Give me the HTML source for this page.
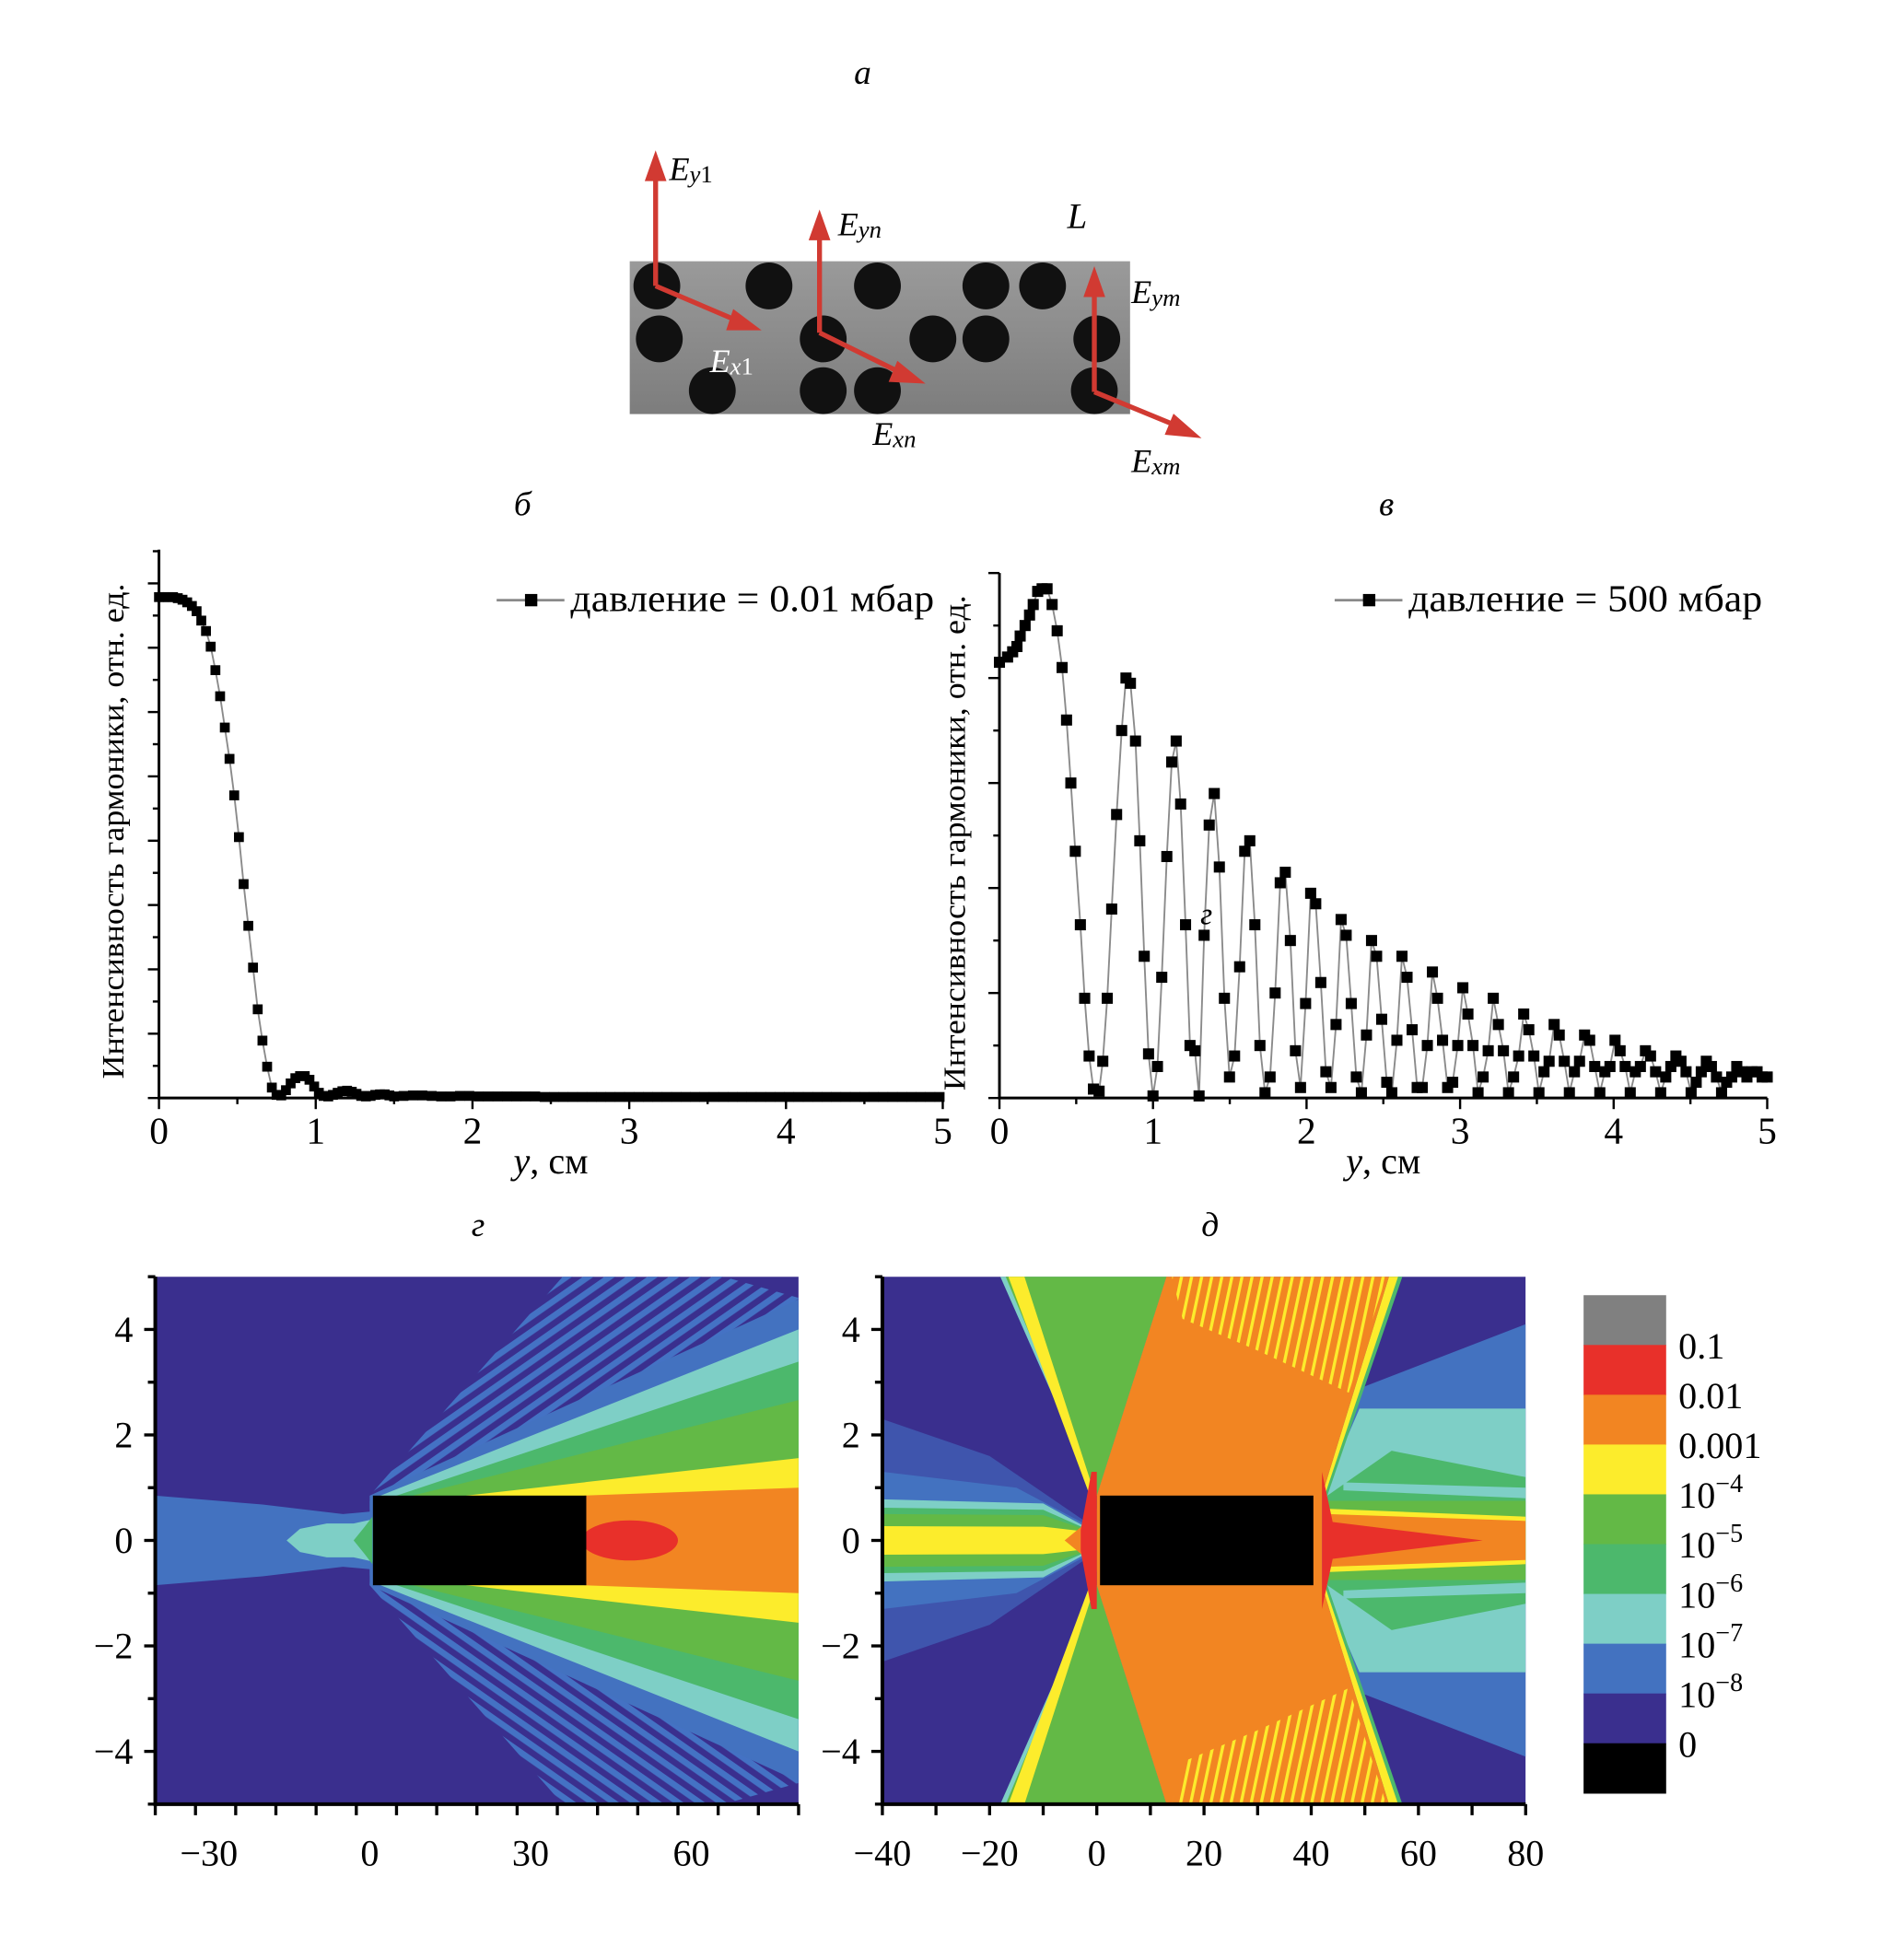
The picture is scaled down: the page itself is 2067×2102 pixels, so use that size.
<!DOCTYPE html>
<html><head><meta charset="utf-8">
<style>
html,body{margin:0;padding:0;background:#fff;}
svg{display:block;}
text{font-family:"Liberation Serif",serif;fill:#000;}
</style></head>
<body>
<svg id="fig" width="2067" height="2102" viewBox="0 0 1545 1571" preserveAspectRatio="none" xmlns="http://www.w3.org/2000/svg">
<defs>
<linearGradient id="gg" x1="0" y1="0" x2="0" y2="1"><stop offset="0" stop-color="#9a9a9a"/><stop offset="1" stop-color="#7d7d7d"/></linearGradient>
<pattern id="ystripe" width="8" height="14" patternUnits="userSpaceOnUse" patternTransform="rotate(12)"><rect width="2.5" height="14" fill="#fcec2c"/></pattern>
<pattern id="bstripe" width="10" height="10" patternUnits="userSpaceOnUse" patternTransform="rotate(-35)"><rect width="10" height="5" fill="#4472c4"/></pattern>
<pattern id="bstripe2" width="10" height="10" patternUnits="userSpaceOnUse" patternTransform="rotate(35)"><rect width="10" height="5" fill="#4472c4"/></pattern>
</defs>

<!-- Panel a -->
<text x="700" y="68" font-size="28" font-style="italic" text-anchor="middle">а</text>
<g>
<rect x="511" y="212" width="406" height="124" fill="url(#gg)"/>
<g id="circles" fill="#111"></g>
<g stroke="#d13a32" stroke-width="4" fill="#d13a32">
<line x1="532" y1="232" x2="532" y2="142"/><polygon points="526,145 538,145 532,128"/>
<line x1="532" y1="232" x2="600" y2="261"/><polygon points="596,254 592,266 612,266"/>
<line x1="665" y1="270" x2="665" y2="190"/><polygon points="659,193 671,193 665,176"/>
<line x1="665" y1="270" x2="732" y2="303"/><polygon points="729,296 724,308 745,309"/>
<line x1="888" y1="318" x2="888" y2="236"/><polygon points="882,239 894,239 888,222"/>
<line x1="888" y1="318" x2="956" y2="346"/><polygon points="953,339 948,351 969,353"/>
</g>
<text x="543" y="146" font-size="27" font-style="italic">E<tspan font-size="20" dy="2">y</tspan><tspan font-size="20" font-style="normal">1</tspan></text>
<text x="680" y="191" font-size="27" font-style="italic">E<tspan font-size="20" dy="2">yn</tspan></text>
<text x="866" y="185" font-size="29" font-style="italic">L</text>
<text x="918" y="246" font-size="27" font-style="italic">E<tspan font-size="20" dy="2">ym</tspan></text>
<text x="576" y="302" font-size="27" font-style="italic" style="fill:#fff">E<tspan font-size="20" dy="2">x</tspan><tspan font-size="20" font-style="normal">1</tspan></text>
<text x="708" y="361" font-size="27" font-style="italic">E<tspan font-size="20" dy="2">xn</tspan></text>
<text x="918" y="383" font-size="27" font-style="italic">E<tspan font-size="20" dy="2">xm</tspan></text>
</g>

<text x="424" y="418" font-size="28" font-style="italic" text-anchor="middle">б</text>
<text x="1125" y="418" font-size="28" font-style="italic" text-anchor="middle">в</text>
<text x="388" y="1003" font-size="28" font-style="italic" text-anchor="middle">г</text>
<text x="982" y="1003" font-size="28" font-style="italic" text-anchor="middle">д</text>

<g id="plotB"></g>
<g id="plotV"></g>
<text x="974" y="750" font-size="25" font-style="italic">г</text>
<g id="mapG"></g>
<g id="mapD"></g>
<g id="cbar"></g>
</svg>

<script>
// ---------- data ----------
const bStart = [96,96,96,96,95.8,95.5,95,94.3,93.3,91.5,89.5,86.5,82,77,71,65,58,50,41,33,25,17,11,6,2,0.6,0.5,1.5,2.8,3.8,4.2,4.2,3.5,2.2,1,0.4,0.3,0.6,1,1.3,1.4,1.2,0.8,0.4,0.3,0.4,0.6,0.7,0.7,0.5,0.3];
const bStartStep = 0.03;
const bTail = [0.4,0.5,0.5,0.4,0.3,0.3,0.4,0.4,0.3,0.3,0.3,0.3,0.3,0.3,0.3,0.2,0.2,0.2,0.2,0.2,0.2,0.2,0.2,0.2,0.2,0.2,0.2,0.2,0.2,0.2,0.2,0.2,0.2,0.2,0.2,0.2,0.2,0.2,0.2,0.2,0.2,0.2,0.2,0.2,0.2,0.2,0.2,0.2,0.2,0.2,0.2,0.2,0.2,0.2,0.2,0.2,0.2,0.2];
const bTailStart = 1.56, bTailStep = 0.06;

const vHeadX = [0,0.053,0.086,0.114,0.135,0.167,0.196,0.22,0.249,0.278,0.31,0.343,0.376,0.408,0.437,0.465,0.494,0.527,0.555,0.584,0.612,0.649,0.673,0.702,0.731,0.763,0.796,0.824,0.853,0.886,0.914,0.943,0.971,1.0,1.029,1.057,1.09,1.122,1.151,1.18,1.212,1.241,1.273];
const vHeadY = [83,84,85,86,88,90,92,94,96.5,97,97,94,89,82,72,60,47,33,19,8,1.7,1.3,7,19,36,54,70,80,79,68,49,27,8.4,0.4,6,23,46,64,68,56,33,10,9];
const vTail = [0.4,31,52,58,44,19,4,8,25,47,49,33,10,1,4,20,41,43,30,9,2,18,39,37,22,5,2,14,34,31,18,4,1,12,30,27,15,3,1,11,27,23,13,2,2,10,24,19,11,2,3,10,21,16,10,1,4,9,19,14,9,1,4,8,16,13,8,1,5,7,14,12,7,1,5,7,12,11,6,1,5,6,11,9,6,1,5,6,9,8,5,1,4,6,8,7,5,1,3,5,7,6,4,1,3,4,6,5,4,5,5,4,4];
const vTailStart = 1.30, vTailEnd = 5.0;
const xTickLabels = ["0","1","2","3","4","5"];

const cbColors = ["#808080","#e8302a","#f28522","#fcec2c","#63b946","#4cb86c","#7ecfc6","#4372c0","#3a2f8e","#000000"];
const cbLabels = ["0.1","0.01","0.001","10|−4","10|−5","10|−6","10|−7","10|−8","0"];

const mapYTicks = [4,2,0,-2,-4];
const mapGXTicks = [-30,0,30,60];
const mapDXTicks = [-40,-20,0,20,40,60,80];

const gLayers = [
 {c:"#3f55ad", p:[[0,0.85],[36,5],[66,5],[80,4.6],[80,0],[0,0]], s:true},
 {c:"#4372c0", p:[[0,0.85],[80,4.57],[80,0],[0,0]]},
 {c:"#7ecfc6", p:[[2,0.85],[80,4.0],[80,0],[2,0]]},
 {c:"#4cb86c", p:[[5,0.85],[80,3.39],[80,0],[5,0]]},
 {c:"#63b946", p:[[8,0.85],[80,2.66],[80,0],[8,0]]},
 {c:"#fcec2c", p:[[18,0.85],[80,1.56],[80,0],[18,0]]},
 {c:"#f28522", p:[[40,0.85],[80,1.0],[80,0],[40,0]]},
 {c:"#4372c0", p:[[-40,0.85],[-20,0.68],[-5,0.5],[0.5,0.55],[0.5,0],[-40,0]]},
 {c:"#7ecfc6", p:[[-15.5,0],[-13,0.22],[-8,0.32],[-3,0.32],[0.5,0.4],[0.5,0]]},
 {c:"#4cb86c", p:[[-3,0],[-1,0.25],[0.5,0.45],[0.5,0]]}
];
const gRed = {cx:48.5, rx:9, ry:0.38};
const gRect = [0.6,40.4,0.85];

const dLayers = [
 {c:"#3f55ad", p:[[-40,2.3],[-20,1.6],[-2,0.35],[-2,0],[-40,0]]},
 {c:"#4372c0", p:[[-40,1.3],[-15,1.0],[-2,0.3],[-2,0],[-40,0]]},
 {c:"#7ecfc6", p:[[-40,0.78],[-10,0.7],[-2,0.25],[-2,0],[-40,0]]},
 {c:"#4cb86c", p:[[-40,0.62],[-10,0.58],[-2,0.22],[-2,0],[-40,0]]},
 {c:"#63b946", p:[[-40,0.5],[-10,0.48],[-2,0.2],[-2,0],[-40,0]]},
 {c:"#fcec2c", p:[[-40,0.27],[-10,0.26],[-3,0.18],[-3,0],[-40,0]]},
 {c:"#f28522", p:[[-6,0],[-3,0.25],[0,0.6],[0,0]]},
 {c:"#7ecfc6", p:[[-18,5],[13,5],[0,0.85]]},
 {c:"#63b946", p:[[-17,5],[13,5],[0,0.85]]},
 {c:"#fcec2c", p:[[-16.5,5],[-13.5,5],[-0.3,0.85],[-1.3,0.85]]},
 {c:"#4372c0", p:[[42,0.85],[49.5,2.9],[80,4.1],[80,0],[42,0]]},
 {c:"#7ecfc6", p:[[42,0.85],[49,2.5],[80,2.5],[80,0],[42,0]]},
 {c:"#4cb86c", p:[[43,0.85],[55,1.7],[80,1.2],[80,0],[43,0]]},
 {c:"#7ecfc6", p:[[46,1.1],[80,1.0],[80,0.8],[46,0.95]]},
 {c:"#63b946", p:[[43,0.75],[80,0.75],[80,0],[43,0]]},
 {c:"#fcec2c", p:[[43,0.6],[80,0.45],[80,0],[43,0]]},
 {c:"#f28522", p:[[43,0.5],[80,0.37],[80,0],[43,0]]},
 {c:"#4cb86c", p:[[54.5,5],[57,5],[43,0.85],[42,0.85]]},
 {c:"#fcec2c", p:[[54.5,5],[56.2,5],[42.5,0.85],[42,0.85]]},
 {c:"#f28522", p:[[13,5],[54.5,5],[42,0.85],[42,0],[0,0],[0,0.85]]},
 {c:"url(#ystripe)", p:[[14,5],[54,5],[50.5,3.9],[47,2.8],[30,3.6],[16,4.2]]},
 {c:"#e8302a", p:[[42,1.3],[44,0.35],[72,0],[42,0]]},
 {c:"#e8302a", p:[[-1,1.3],[-3,0.2],[-3,0],[0,0],[0,1.3]]}
];
const dRect = [0.6,40.4,0.85];

const circlesData = [[533,232],[624,232],[712,232],[800,232],[846,232],[535,275],[668,275],[757,275],[800,275],[890,275],[578,317],[668,317],[712,317],[888,317]];

// ---------- helpers ----------
const NS = "http://www.w3.org/2000/svg";
function el(tag, attrs, parent){const e=document.createElementNS(NS,tag);for(const k in attrs)e.setAttribute(k,attrs[k]);if(parent)parent.appendChild(e);return e;}

const circ = document.getElementById('circles');
circlesData.forEach(c=>{
 const e=el('circle',{cx:c[0],cy:c[1],r:19},circ);
 
 
});

// ---------- line plots ----------
function linePlot(g, cfg){
 const sx=v=>cfg.x0+(v/5)*(cfg.x1-cfg.x0);
 const sy=v=>cfg.yb-(v/100)*(cfg.yb-cfg.y100);
 const ax=el('path',{d:`M${cfg.x0} ${cfg.ytop} V${cfg.yb} H${cfg.x1}`,stroke:'#000','stroke-width':2.2,fill:'none'},g);
 
 
 for(let i=0;i<=cfg.nY;i++){
  const y=cfg.yb-i*cfg.ySp, L=(i%cfg.major===0)?9:5;
  const t=el('line',{x1:cfg.x0-L,x2:cfg.x0,y1:y,y2:y,stroke:'#000','stroke-width':1.8},g);
  
  
 }
 for(let i=0;i<=10;i++){
  const x=sx(i/2), L=i%2===0?9:5;
  const t=el('line',{x1:x,x2:x,y1:cfg.yb,y2:cfg.yb+L,stroke:'#000','stroke-width':1.8},g);
  
  
 }
 xTickLabels.forEach((s,i)=>{
  const t=el('text',{x:sx(i),y:cfg.yb+37,'font-size':31,'text-anchor':'middle'},g);
  t.textContent=s;
  
  
 });
 const xt=el('text',{x:(cfg.x0+cfg.x1)/2,y:cfg.yb+61,'font-size':30,'text-anchor':'middle'},g);
 xt.innerHTML='<tspan font-style="italic">y</tspan>, см';
 
 
 const yt=el('text',{x:0,y:0,'font-size':25,'text-anchor':'middle',transform:`translate(${cfg.ytx},${(cfg.yb+cfg.ytop)/2+6}) rotate(-90)`,textLength:402,lengthAdjust:'spacingAndGlyphs'},g);
 yt.textContent='Интенсивность гармоники, отн. ед.';
 
 
 const pts=cfg.xs.map((x,i)=>[sx(x),sy(cfg.ys[i])]);
 const ln=el('polyline',{points:pts.map(p=>p.join(',')).join(' '),stroke:'#8a8a8a','stroke-width':1.4,fill:'none'},g);
 
 
 pts.forEach(p=>{
  const m=el('rect',{x:p[0]-cfg.ms/2,y:p[1]-cfg.ms/2,width:cfg.ms,height:cfg.ms,fill:'#000'},g);
  
  
 });
 const lg=el('g',{},g);
 
 
 el('line',{x1:cfg.lx,x2:cfg.lx+55,y1:487,y2:487,stroke:'#8a8a8a','stroke-width':2},lg);
 el('rect',{x:cfg.lx+23,y:482,width:10,height:10,fill:'#000'},lg);
 const lt=el('text',{x:cfg.lx+60,y:496,'font-size':31,textLength:cfg.lw,lengthAdjust:'spacingAndGlyphs'},lg);
 lt.textContent=cfg.label;
}

const bX=[], bY=[];
bStart.forEach((v,i)=>{bX.push(i*bStartStep);bY.push(v);});
bTail.forEach((v,i)=>{bX.push(bTailStart+i*bTailStep);bY.push(v);});
linePlot(document.getElementById('plotB'),{x0:129,x1:765,yb:891,y100:467.6,ytop:446,nY:17,ySp:26.1,major:2,ytx:100,xs:bX,ys:bY,ms:8,lx:403,lw:295,label:'давление = 0.01 мбар'});

const vX=vHeadX.slice(), vY=vHeadY.slice();
const vStep=(vTailEnd-vTailStart)/(vTail.length-1);
vTail.forEach((v,i)=>{vX.push(vTailStart+i*vStep);vY.push(v);});
linePlot(document.getElementById('plotV'),{x0:811,x1:1434,yb:891,y100:465,ytop:465,nY:10,ySp:42.6,major:2,ytx:783,xs:vX,ys:vY,ms:9,lx:1083,lw:287,label:'давление = 500 мбар'});

// ---------- contour maps ----------
function contourMap(g, cfg, layers, rect, red){
 const px=x=>cfg.x0+(x+40)*(cfg.x1-cfg.x0)/120;
 const py=y=>cfg.y0-y*(cfg.y0-cfg.ytop)/5;
 const clipId='clip'+cfg.id;
 const cp=el('clipPath',{id:clipId},g);
 el('rect',{x:px(-40),y:py(5),width:px(80)-px(-40),height:py(-5)-py(5)},cp);
 const inner=el('g',{'clip-path':`url(#${clipId})`},g);
 const bg=el('rect',{x:px(-40),y:py(5),width:px(80)-px(-40),height:py(-5)-py(5),fill:'#3a2f8e'},inner);
 
 
 layers.forEach(L=>{
  [1,-1].forEach(sgn=>{
   let fill=L.c;
   if(L.s) fill = sgn>0?'url(#bstripe)':'url(#bstripe2)';
   const p=el('polygon',{points:L.p.map(q=>px(q[0])+','+py(q[1]*sgn)).join(' '),fill:fill},inner);
   
   
  });
 });
 if(red){
  const e=el('ellipse',{cx:px(red.cx),cy:py(0),rx:px(red.cx+red.rx)-px(red.cx),ry:py(-red.ry)-py(0),fill:'#e8302a'},inner);
  
  
 }
 const r=el('rect',{x:px(rect[0]),y:py(rect[2]),width:px(rect[1])-px(rect[0]),height:py(-rect[2])-py(rect[2]),fill:'#000'},inner);
 
 
 const ax=el('path',{d:`M${px(-40)} ${py(5)} V${py(-5)} H${px(80)}`,stroke:'#000','stroke-width':3,fill:'none'},g);
 
 
 for(let y=-5;y<=5;y++){
  const L=(y%2===0)?9:6;
  const t=el('line',{x1:px(-40)-L,x2:px(-40),y1:py(y),y2:py(y),stroke:'#000','stroke-width':2.5},g);
  
  
 }
 for(let x=-40;x<=80;x+=cfg.xtStep){
  const t=el('line',{x1:px(x),x2:px(x),y1:py(-5),y2:py(-5)+9,stroke:'#000','stroke-width':2.5},g);
  
  
 }
 mapYTicks.forEach(v=>{
  const t=el('text',{x:px(-40)-18,y:py(v)+10,'font-size':30,'text-anchor':'end'},g);
  t.textContent=v<0?'−'+(-v):String(v);
  
  
 });
 cfg.xt.forEach(v=>{
  const t=el('text',{x:px(v),y:py(-5)+50,'font-size':30,'text-anchor':'middle'},g);
  t.textContent=v<0?'−'+(-v):String(v);
  
  
 });
}
contourMap(document.getElementById('mapG'),{id:'g',x0:126,x1:648,y0:1250,ytop:1036,xtStep:7.5,xt:mapGXTicks},gLayers,gRect,gRed);
contourMap(document.getElementById('mapD'),{id:'d',x0:716,x1:1238,y0:1250,ytop:1036,xtStep:10,xt:mapDXTicks},dLayers,dRect,null);

// ---------- colorbar ----------
const cb=document.getElementById('cbar');
const cbTop=1051, cbH=40.4;
cbColors.forEach((c,i)=>{
 const r=el('rect',{x:1285,y:cbTop+i*cbH,width:67,height:cbH+0.5,fill:c},cb);
 
 
});
cbLabels.forEach((s,i)=>{
 const t=el('text',{x:1362,y:cbTop+(i+1)*cbH+11,'font-size':30},cb);
 const parts=s.split('|');
 if(parts.length>1){t.innerHTML=parts[0]+'<tspan font-size="21" dy="-13">'+parts[1]+'</tspan>';}
 else t.textContent=s;
 
 
});
</script>
</body></html>
